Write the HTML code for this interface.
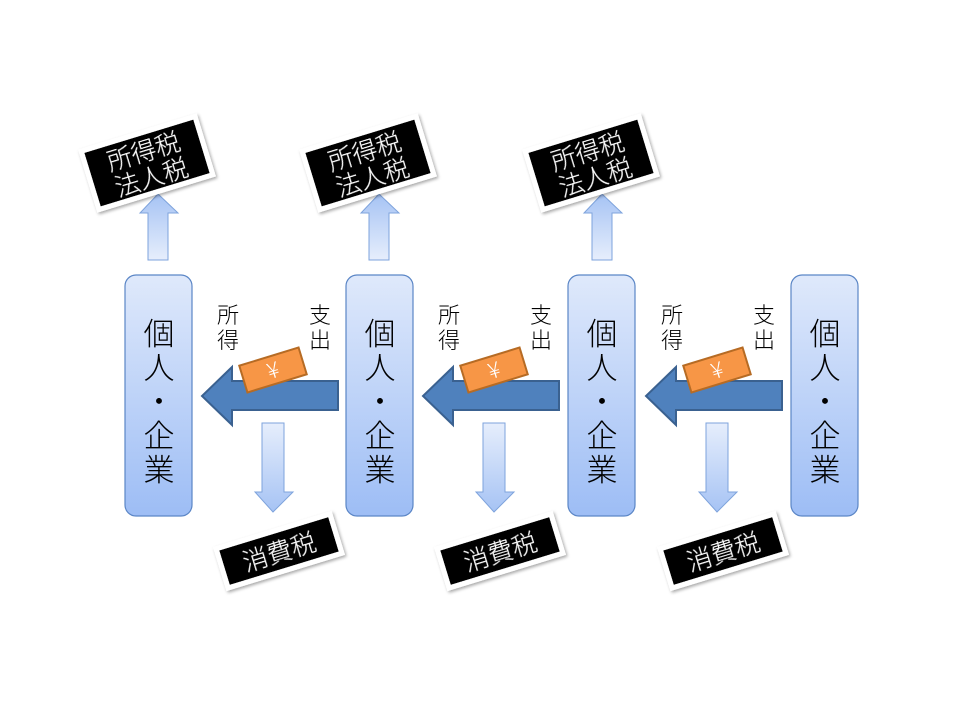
<!DOCTYPE html>
<html><head><meta charset="utf-8"><style>
html,body{margin:0;padding:0;background:#fff;}
svg{display:block;}
text{font-family:"Noto Sans CJK JP","Liberation Sans",sans-serif;font-weight:300;}
</style></head><body>
<svg width="960" height="720" viewBox="0 0 960 720" xmlns="http://www.w3.org/2000/svg">
<defs>
<linearGradient id="bx" x1="0" y1="0" x2="0" y2="1"><stop offset="0" stop-color="#dfe9fb"/><stop offset="1" stop-color="#9dbdf5"/></linearGradient>
<linearGradient id="up" x1="0" y1="0" x2="0" y2="1"><stop offset="0" stop-color="#a6c3f4"/><stop offset="1" stop-color="#e6eefc"/></linearGradient>
<linearGradient id="dn" x1="0" y1="0" x2="0" y2="1"><stop offset="0" stop-color="#e6eefc"/><stop offset="1" stop-color="#a6c3f4"/></linearGradient>
<filter id="sh" x="-20%" y="-20%" width="140%" height="140%"><feDropShadow dx="1" dy="2" stdDeviation="1.5" flood-color="#000" flood-opacity="0.35"/></filter>
<g id="box">
<rect x="0" y="0" width="67" height="241" rx="11" fill="url(#bx)" stroke="#5b86c6" stroke-width="1.2"/>
<text font-size="31" text-anchor="middle" fill="#000">
<tspan x="34" y="70">個</tspan><tspan x="34" y="104">人</tspan><tspan x="34" y="138">・</tspan><tspan x="34" y="172">企</tspan><tspan x="34" y="206">業</tspan></text>
</g>
<g id="grp">
<polygon points="148,260 168,260 168,213 178,213 158,194 140,213 148,213" fill="url(#up)" stroke="#7ea3dc" stroke-width="1"/>
<g transform="translate(147,163) rotate(-17)" filter="url(#sh)">
<rect x="-62" y="-33" width="124" height="66" fill="#fff"/>
<rect x="-57" y="-28" width="114" height="56" fill="#000"/>
<text x="0" y="-3" font-size="25" fill="#fff" text-anchor="middle">所得税</text>
<text x="0" y="24" font-size="25" fill="#fff" text-anchor="middle">法人税</text>
</g>
<text font-size="22" fill="#000" text-anchor="middle"><tspan x="228" y="323">所</tspan><tspan x="228" y="348">得</tspan></text>
<text font-size="22" fill="#000" text-anchor="middle"><tspan x="320" y="323">支</tspan><tspan x="320" y="348">出</tspan></text>
<polygon points="338,381 232,381 232,367 202,396 232,425 232,410 338,410" fill="#4f81bd" stroke="#3a6190" stroke-width="2"/>
<g transform="translate(273,370) rotate(-17)">
<rect x="-31" y="-14" width="62" height="28" fill="#f79646" stroke="#b66b24" stroke-width="2"/>
<text x="0" y="8" font-size="22" fill="#fff" text-anchor="middle">¥</text>
</g>
<polygon points="262,423 284,423 284,492 293,492 273,512 255,492 262,492" fill="url(#dn)" stroke="#7ea3dc" stroke-width="1"/>
<g transform="translate(279,551) rotate(-17)" filter="url(#sh)">
<rect x="-62" y="-23" width="124" height="46" fill="#fff"/>
<rect x="-57" y="-18" width="114" height="36" fill="#000"/>
<text x="0" y="10" font-size="25" fill="#fff" text-anchor="middle">消費税</text>
</g>
</g>
</defs>
<use href="#box" x="125" y="275"/>
<use href="#box" x="346" y="275"/>
<use href="#box" x="568" y="275"/>
<use href="#box" x="791" y="275"/>
<use href="#grp" x="0" y="0"/>
<use href="#grp" x="221" y="0"/>
<use href="#grp" x="444" y="0"/>
</svg>
</body></html>
